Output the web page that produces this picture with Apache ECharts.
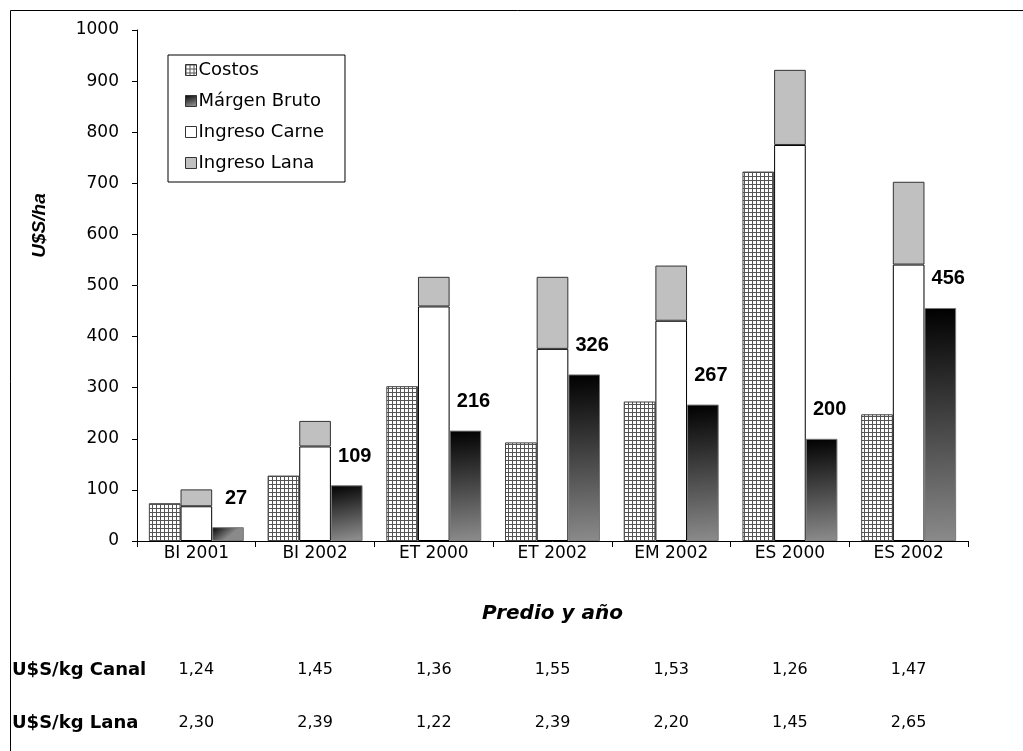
<!DOCTYPE html>
<html>
<head>
<meta charset="utf-8">
<script src="https://cdn.jsdelivr.net/npm/echarts@6/dist/echarts.min.js"></script>
<style>
  html, body { margin: 0; padding: 0; background: #fff; }
  #chart { width: 1023px; height: 751px; }
</style>
</head>
<body>
<div id="chart"></div>
<script>
// datos
const categorias = ['BI 2001', 'BI 2002', 'ET 2000', 'ET 2002', 'EM 2002', 'ES 2000', 'ES 2002']
const costos = [74, 128, 303, 193, 273, 723, 248]
const ingresoCarne = [68, 185, 459, 376, 431, 775, 541]
const ingresoLana = [33, 50, 58, 141, 108, 147, 162]
const margenBruto = [27, 109, 216, 326, 267, 200, 456]
const precioCanal = ['1,24', '1,45', '1,36', '1,55', '1,53', '1,26', '1,47']
const precioLana = ['2,30', '2,39', '1,22', '2,39', '2,20', '1,45', '2,65']
const yTicks = [0, 100, 200, 300, 400, 500, 600, 700, 800, 900, 1000]

// el texto del original está estirado en horizontal, DejaVu se acerca más
const WIDE = '"DejaVu Sans", Arial, sans-serif'
const FONT = 'Arial, "Liberation Sans", sans-serif'

// trama cuadriculada para Costos
const makeGrid = () => {
  const c = document.createElement('canvas')
  c.width = 4
  c.height = 4
  const ctx = c.getContext('2d')
  ctx.fillStyle = '#fff'
  ctx.fillRect(0, 0, 4, 4)
  ctx.fillStyle = '#555'
  ctx.fillRect(0, 0, 4, 1)
  ctx.fillRect(0, 0, 1, 4)
  return c
}

const chart = echarts.init(document.getElementById('chart'), null, { renderer: 'canvas' })

const gradMargen = new echarts.graphic.LinearGradient(0, 0, 0.35, 1, [
  { offset: 0, color: '#000' },
  { offset: 1, color: '#8a8a8a' }
])

const tableAxis = (data, name, offset) => ({
  type: 'category',
  data: data,
  position: 'bottom',
  offset: offset,
  name: name,
  nameLocation: 'start',
  nameGap: 125,
  nameTextStyle: { fontFamily: WIDE, fontSize: 18, fontWeight: 'bold', color: '#000', align: 'left', verticalAlign: 'middle' },
  axisLine: { show: false },
  axisTick: { show: false },
  axisLabel: { fontFamily: WIDE, fontSize: 16, color: '#000', margin: 0, verticalAlign: 'middle' }
})

const option = {
  animation: false,
  backgroundColor: '#fff',
  graphic: [{
    type: 'rect',
    left: 8, top: 8,
    shape: { width: 1040, height: 780 },
    style: { fill: 'none', stroke: '#000', lineWidth: 1 },
    silent: true
  }],
  legend: {
    data: ['Costos', 'Márgen Bruto', 'Ingreso Carne', 'Ingreso Lana'],
    orient: 'vertical',
    left: 168,
    top: 55,
    padding: [6, 21, 10, 17],
    itemGap: 13,
    itemWidth: 11,
    itemHeight: 11,
    itemStyle: { borderColor: '#333', borderWidth: 1 },
    borderColor: '#000',
    borderWidth: 1,
    icon: 'rect',
    textStyle: { fontFamily: WIDE, fontSize: 18, color: '#000', padding: [0, 0, 0, -3] }
  },
  grid: { left: 137, right: 55, top: 30, bottom: 210 },
  xAxis: [
    {
      type: 'category',
      data: categorias,
      name: 'Predio y año',
      nameLocation: 'middle',
      nameGap: 63,
      nameTextStyle: { fontFamily: WIDE, fontSize: 20, fontWeight: 'bold', fontStyle: 'italic', color: '#000' },
      axisLine: { lineStyle: { color: '#000', width: 1 } },
      axisTick: { show: true, inside: false, length: 6, lineStyle: { color: '#000' } },
      axisLabel: { fontFamily: WIDE, fontSize: 17, color: '#000', margin: 4 }
    },
    tableAxis(precioCanal, 'U$S/kg Canal', 129),
    tableAxis(precioLana, 'U$S/kg Lana', 182)
  ],
  yAxis: {
    type: 'value',
    min: 0,
    max: 1000,
    interval: 100,
    name: 'U$S/ha',
    nameLocation: 'middle',
    nameGap: 88,
    nameTextStyle: {
      fontFamily: FONT, fontSize: 19, fontWeight: 'bold', fontStyle: 'italic', color: '#000',
      padding: [0, 0, 0, 120]
    },
    axisLine: { show: true, lineStyle: { color: '#000', width: 1 } },
    axisTick: { show: true, length: 5, lineStyle: { color: '#000' } },
    splitLine: { show: false },
    axisLabel: {
      fontFamily: WIDE, fontSize: 17, color: '#000', margin: 18,
      formatter: v => (yTicks.indexOf(v) >= 0 ? String(v) : '')
    }
  },
  series: [
    {
      name: 'Costos',
      type: 'bar',
      data: costos,
      barGap: '0%',
      barCategoryGap: '20%',
      itemStyle: { color: { image: makeGrid(), repeat: 'repeat' }, borderColor: '#444', borderWidth: 1 }
    },
    {
      name: 'Ingreso Carne',
      type: 'bar',
      stack: 'ingreso',
      data: ingresoCarne,
      itemStyle: { color: '#fff', borderColor: '#000', borderWidth: 1 }
    },
    {
      name: 'Ingreso Lana',
      type: 'bar',
      stack: 'ingreso',
      data: ingresoLana,
      itemStyle: { color: '#c0c0c0', borderColor: '#333', borderWidth: 1 }
    },
    {
      name: 'Márgen Bruto',
      type: 'bar',
      data: margenBruto,
      itemStyle: { color: gradMargen, borderColor: '#777', borderWidth: 1 },
      label: {
        show: true,
        position: 'top',
        distance: 19,
        offset: [8, 0],
        fontFamily: FONT,
        fontSize: 20,
        fontWeight: 'bold',
        color: '#000'
      }
    }
  ]
}

chart.setOption(option)
</script>
</body>
</html>
